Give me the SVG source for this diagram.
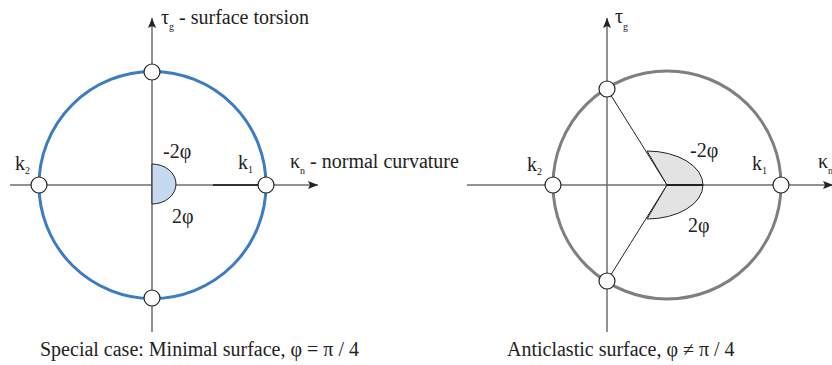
<svg xmlns="http://www.w3.org/2000/svg" width="832" height="365" viewBox="0 0 832 365">
<defs>
<marker id="arr" viewBox="0 0 10 8" refX="10" refY="4" markerWidth="10" markerHeight="8" markerUnits="userSpaceOnUse" orient="auto">
<path d="M0,0 L10,4 L0,8 L2,4 Z" fill="#222"/>
</marker>
<style>
.axis{stroke:#6e6e6e;stroke-width:1.5;fill:none}
.node{fill:#fff;stroke:#222;stroke-width:1.2}
.ln{stroke:#222;stroke-width:1;fill:none}
</style>
</defs>
<rect width="832" height="365" fill="#fff"/>
<g id="connectors">
<line class="axis" x1="10" y1="185" x2="318" y2="185" marker-end="url(#arr)"/>
<line class="axis" x1="152" y1="332" x2="152" y2="18" marker-end="url(#arr)"/>
<line x1="213" y1="185" x2="258" y2="185" stroke="#333" stroke-width="1.8"/>
<line class="axis" x1="467" y1="185" x2="833" y2="185" marker-end="url(#arr)"/>
<line class="axis" x1="607" y1="332" x2="607" y2="18" marker-end="url(#arr)"/>
<line class="ln" x1="607" y1="89" x2="667" y2="185"/>
<line class="ln" x1="607" y1="281" x2="667" y2="185"/>
</g>
<g id="left-circle">
<circle cx="152.5" cy="185" r="113.5" fill="none" stroke="#3b7cc3" stroke-width="3"/>
</g>
<g id="left-angle">
<path d="M152,164 A24,20 0 0 1 152,204 Z" fill="#c6d9ee" stroke="#222" stroke-width="1"/>
</g>
<g id="right-circle">
<circle cx="667" cy="185" r="114" fill="none" stroke="#7f7f7f" stroke-width="3"/>
</g>
<g id="right-angle">
<path d="M667,185 L647,151 A56,34 0 0 1 703,185 A56,34 0 0 1 647,219 Z" fill="#e3e3e3" stroke="#222" stroke-width="1"/>
<line x1="667" y1="185" x2="703" y2="185" stroke="#222" stroke-width="1.8"/>
</g>
<g id="left-nodes">
<circle class="node" cx="152" cy="72" r="8"/>
<circle class="node" cx="152" cy="298" r="8"/>
<circle class="node" cx="39" cy="185" r="8"/>
<circle class="node" cx="266" cy="185" r="8"/>
</g>
<g id="right-nodes">
<circle class="node" cx="607" cy="89" r="8"/>
<circle class="node" cx="607" cy="281" r="8"/>
<circle class="node" cx="553" cy="185" r="8"/>
<circle class="node" cx="781" cy="185" r="8"/>
</g>
<g id="left-labels" font-family="'Liberation Serif', 'Times New Roman', serif" font-size="20" fill="#222">
<text x="161" y="24">τ<tspan font-size="10" dy="6">g</tspan><tspan dy="-6"> - surface torsion</tspan></text>
<text x="163" y="158">-2φ</text>
<text x="172" y="223">2φ</text>
<text x="238" y="169">k<tspan font-size="10" dy="4">1</tspan></text>
<text x="290" y="168">κ<tspan font-size="10" dy="6">n</tspan><tspan dy="-6"> - normal curvature</tspan></text>
<text x="15" y="170">k<tspan font-size="10" dy="4">2</tspan></text>
<text x="40" y="356">Special case: Minimal surface, φ = π / 4</text>
</g>
<g id="right-labels" font-family="'Liberation Serif', 'Times New Roman', serif" font-size="20" fill="#222">
<text x="615" y="23">τ<tspan font-size="10" dy="7">g</tspan></text>
<text x="690" y="157">-2φ</text>
<text x="688" y="232">2φ</text>
<text x="752" y="170">k<tspan font-size="10" dy="4">1</tspan></text>
<text x="818" y="168">κ<tspan font-size="10" dy="6">n</tspan></text>
<text x="527" y="171">k<tspan font-size="10" dy="4">2</tspan></text>
<text x="507" y="356">Anticlastic surface, φ ≠ π / 4</text>
</g>
</svg>
